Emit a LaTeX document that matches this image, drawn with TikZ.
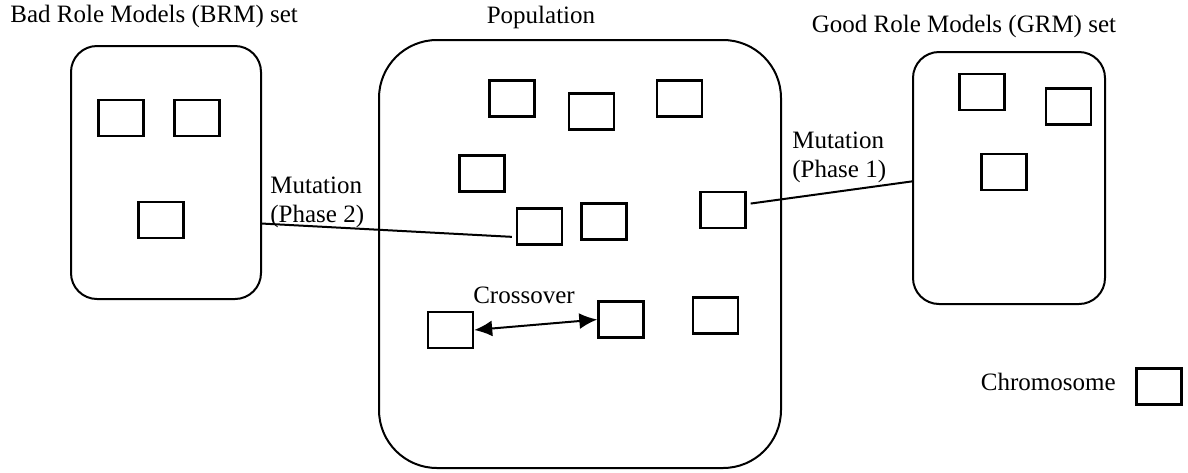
\documentclass[tikz,border=0pt]{standalone}
\usepackage{fontspec}
\setmainfont{Liberation Serif}
\usetikzlibrary{arrows.meta}
\tikzset{>={Latex[length=9pt,width=8pt]}}
\tikzstyle{chrom}=[draw,line width=1.2pt,minimum width=22.5pt,minimum height=18pt,inner sep=0pt]
\tikzstyle{modelset}=[draw,line width=1pt,rounded corners=13pt,inner sep=0pt]
\tikzstyle{lbl}=[font=\fontsize{12.5}{14.5}\selectfont,inner sep=0pt]
\tikzstyle{link}=[line width=1pt]

\begin{document}
\begin{tikzpicture}[x=0.5pt,y=-0.5pt]
  \useasboundingbox (0,0) rectangle (1188,472);
  \node[modelset,minimum width=95pt,minimum height=126.5pt] (brm) at (166,172.5) {};
  \node[modelset,minimum width=201pt,minimum height=214pt,rounded corners=29pt] (pop) at (580,254) {};
  \node[modelset,minimum width=96pt,minimum height=126pt] (grm) at (1009,178) {};

  \node[lbl,anchor=base west] (brmlabel) at (10,22) {Bad Role Models (BRM) set};
  \node[lbl,anchor=base] (poplabel) at (541,23) {Population};
  \node[lbl,anchor=base] (grmlabel) at (964,32) {Good Role Models (GRM) set};

  \node[chrom] (b1) at (121,118) {};
  \node[chrom] (b2) at (197,118) {};
  \node[chrom] (b3) at (161,220) {};

  \node[chrom] (p1) at (512,98.5) {};
  \node[chrom] (p2) at (591.5,111.5) {};
  \node[chrom] (p3) at (679.5,98.5) {};
  \node[chrom] (p4) at (482,173.5) {};
  \node[chrom] (p5) at (539.5,226.5) {};
  \node[chrom] (p6) at (604,221.5) {};
  \node[chrom] (p7) at (723,210) {};
  \node[chrom] (p8) at (450.5,330) {};
  \node[chrom] (p9) at (621,319.5) {};
  \node[chrom] (p10) at (715.5,315.5) {};

  \node[chrom] (g1) at (982,92) {};
  \node[chrom] (g2) at (1068.5,106.5) {};
  \node[chrom] (g3) at (1004,172) {};

  %legend
  \node[chrom] (key) at (1159,386.5) {};
  \node[lbl,anchor=base east] (keylabel) at (1116,390) {Chromosome};

  \draw[link,shorten >=2pt] (brm.-28) -- (p5.204);
  \node[lbl,align=left,anchor=north west] (mut2) at (270,177) {Mutation\\(Phase 2)};
  \draw[link,shorten <=2pt] (p7.14) -- (grm.182);
  \node[lbl,align=left,anchor=north west] (mut1) at (792,132) {Mutation\\(Phase 1)};
  \draw[link,<->] (p8.east) -- (p9.west);
  \node[lbl,anchor=base] (cross) at (524,303) {Crossover};
\end{tikzpicture}
\end{document}
